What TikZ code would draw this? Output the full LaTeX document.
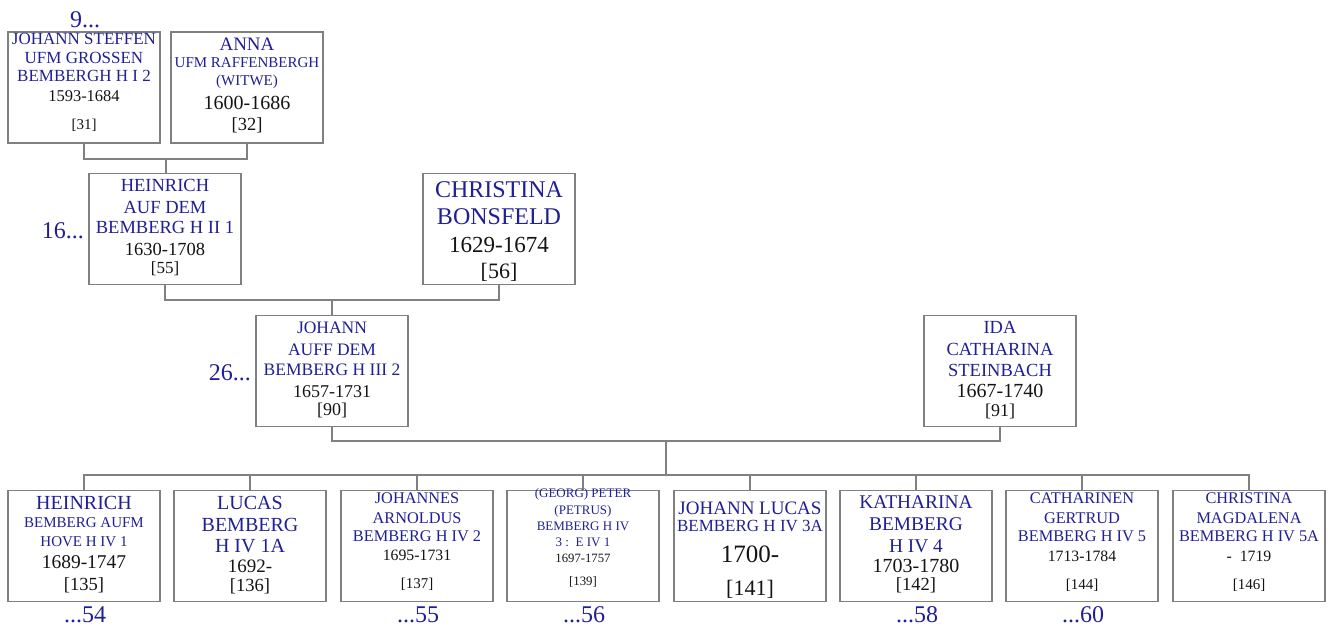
\documentclass[tikz,border=0pt]{standalone}
\usepackage{fontspec}
\setmainfont{Liberation Serif}
\definecolor{nameblue}{RGB}{32,32,150}
\definecolor{boxgray}{RGB}{128,128,128}
\definecolor{datecol}{RGB}{20,20,20}
\newcommand\boxline[6]{\node[anchor=base,inner sep=0,text=#4,font=\fontsize{#5}{#5}\selectfont] (#1) at (#2,#3) {#6};}
\tikzset{
  person/.style={draw=boxgray,line width=1.2pt,minimum width=152pt,minimum height=111pt,inner sep=0,fill=white},
  conn/.style={draw=boxgray,line width=1.2pt},
  gen/.style={anchor=base,inner sep=0,text=nameblue,font=\fontsize{24}{24}\selectfont}
}
\begin{document}
\begin{tikzpicture}[x=1pt,y=-1pt]
\useasboundingbox (0,0) rectangle (1332,628);
% boxes
\node[person] (A) at (84,87.5) {};
\node[person] (B) at (247,87.5) {};
\node[person] (C) at (165,229) {};
\node[person] (D) at (499,229) {};
\node[person] (E) at (332,371) {};
\node[person] (F) at (1000,371) {};
\node[person] (K1) at (84,546) {};
\node[person] (K2) at (250,546) {};
\node[person] (K3) at (417,546) {};
\node[person] (K4) at (583,546) {};
\node[person] (K5) at (750,546) {};
\node[person] (K6) at (916,546) {};
\node[person] (K7) at (1082,546) {};
\node[person] (K8) at (1249,546) {};
% connectors
\coordinate (m1) at (166,159);
\draw[conn] (A.south) |- (m1) -| (B.south);
\draw[conn] (m1) -- (m1 |- C.north);
\coordinate (m2) at (332,300);
\draw[conn] (C.south) |- (m2) -| (D.south);
\draw[conn] (m2) -- (E.north);
\coordinate (m3) at (666,441);
\draw[conn] (E.south) |- (m3) -| (F.south);
\coordinate (m4) at (666,475);
\draw[conn] (m3) -- (m4);
\draw[conn] (K1.north) |- (m4) -| (K8.north);
\foreach \k in {K2,K3,K4,K5,K6,K7} {\draw[conn] (\k.north) -- (\k.north |- m4);}
% generation labels
\node[gen] (g9) at (85,28) {9...};
\node[gen,anchor=base east] (g16) at (84,239) {16...};
\node[gen,anchor=base east] (g26) at (251,380) {26...};
\node[gen] (g54) at (85,622) {...54};
\node[gen] (g55) at (418,622) {...55};
\node[gen] (g56) at (584,622) {...56};
\node[gen] (g58) at (917,622) {...58};
\node[gen] (g60) at (1083,622) {...60};
% A
\boxline{a1}{84}{45}{nameblue}{17}{JOHANN STEFFEN}
\boxline{a2}{84}{64}{nameblue}{17}{UFM GROSSEN}
\boxline{a3}{84}{82}{nameblue}{17}{BEMBERGH H I 2}
\boxline{a4}{84}{102}{datecol}{16.5}{1593-1684}
\boxline{a5}{84}{130}{datecol}{15}{[31]}
% B
\boxline{b1}{247}{51}{nameblue}{19}{ANNA}
\boxline{b2}{247}{68}{nameblue}{15}{UFM RAFFENBERGH}
\boxline{b3}{247}{86}{nameblue}{15}{(WITWE)}
\boxline{b4}{247}{110}{datecol}{20}{1600-1686}
\boxline{b5}{247}{131}{datecol}{18.5}{[32]}
% C
\boxline{c1}{165}{192}{nameblue}{18.5}{HEINRICH}
\boxline{c2}{165}{214}{nameblue}{18.5}{AUF DEM}
\boxline{c3}{165}{234}{nameblue}{18.5}{BEMBERG H II 1}
\boxline{c4}{165}{255}{datecol}{18.5}{1630-1708}
\boxline{c5}{165}{273}{datecol}{17}{[55]}
% D
\boxline{d1}{499}{198}{nameblue}{24}{CHRISTINA}
\boxline{d2}{499}{225}{nameblue}{24}{BONSFELD}
\boxline{d3}{499}{252}{datecol}{23}{1629-1674}
\boxline{d4}{499}{278}{datecol}{22}{[56]}
% E
\boxline{e1}{332}{333}{nameblue}{17.5}{JOHANN}
\boxline{e2}{332}{355}{nameblue}{17.5}{AUFF DEM}
\boxline{e3}{332}{375}{nameblue}{17.5}{BEMBERG H III 2}
\boxline{e4}{332}{397}{datecol}{18}{1657-1731}
\boxline{e5}{332}{415}{datecol}{18}{[90]}
% F
\boxline{f1}{1000}{333}{nameblue}{18.5}{IDA}
\boxline{f2}{1000}{355}{nameblue}{18.5}{CATHARINA}
\boxline{f3}{1000}{376}{nameblue}{18.5}{STEINBACH}
\boxline{f4}{1000}{397}{datecol}{20}{1667-1740}
\boxline{f5}{1000}{416}{datecol}{18}{[91]}
% K1
\boxline{k11}{84}{509}{nameblue}{20}{HEINRICH}
\boxline{k12}{84}{527}{nameblue}{15}{BEMBERG AUFM}
\boxline{k13}{84}{546}{nameblue}{15}{HOVE H IV 1}
\boxline{k14}{84}{568}{datecol}{19.5}{1689-1747}
\boxline{k15}{84}{590}{datecol}{18.5}{[135]}
% K2
\boxline{k21}{250}{509}{nameblue}{20}{LUCAS}
\boxline{k22}{250}{531}{nameblue}{20}{BEMBERG}
\boxline{k23}{250}{552}{nameblue}{20}{H IV 1A}
\boxline{k24}{250}{572}{datecol}{19}{1692-}
\boxline{k25}{250}{591}{datecol}{18.5}{[136]}
% K3
\boxline{k31}{417}{503}{nameblue}{16.3}{JOHANNES}
\boxline{k32}{417}{523}{nameblue}{16.3}{ARNOLDUS}
\boxline{k33}{417}{541}{nameblue}{16.3}{BEMBERG H IV 2}
\boxline{k34}{417}{560}{datecol}{15.8}{1695-1731}
\boxline{k35}{417}{588}{datecol}{15}{[137]}
% K4
\boxline{k41}{583}{497}{nameblue}{13}{(GEORG) PETER}
\boxline{k42}{583}{514}{nameblue}{13}{(PETRUS)}
\boxline{k43}{583}{530}{nameblue}{13}{BEMBERG H IV}
\boxline{k44}{583}{546}{nameblue}{13}{3 :\ \ E IV 1}
\boxline{k45}{583}{562}{datecol}{12.7}{1697-1757}
\boxline{k46}{583}{585}{datecol}{12.8}{[139]}
% K5
\boxline{k51}{750}{514}{nameblue}{19}{JOHANN LUCAS}
\boxline{k52}{750}{531}{nameblue}{17}{BEMBERG H IV 3A}
\boxline{k53}{750}{562}{datecol}{25}{1700-}
\boxline{k54}{750}{595}{datecol}{22}{[141]}
% K6
\boxline{k61}{916}{508}{nameblue}{19.4}{KATHARINA}
\boxline{k62}{916}{530}{nameblue}{19.4}{BEMBERG}
\boxline{k63}{916}{552}{nameblue}{19.4}{H IV 4}
\boxline{k64}{916}{572}{datecol}{20}{1703-1780}
\boxline{k65}{916}{590}{datecol}{18.5}{[142]}
% K7
\boxline{k71}{1082}{503}{nameblue}{16.3}{CATHARINEN}
\boxline{k72}{1082}{523}{nameblue}{16.3}{GERTRUD}
\boxline{k73}{1082}{541}{nameblue}{16.3}{BEMBERG H IV 5}
\boxline{k74}{1082}{561}{datecol}{15.8}{1713-1784}
\boxline{k75}{1082}{589}{datecol}{15}{[144]}
% K8
\boxline{k81}{1249}{503}{nameblue}{16.3}{CHRISTINA}
\boxline{k82}{1249}{523}{nameblue}{16.3}{MAGDALENA}
\boxline{k83}{1249}{541}{nameblue}{16.3}{BEMBERG H IV 5A}
\boxline{k84}{1249}{561}{datecol}{15.8}{-\ \ 1719}
\boxline{k85}{1249}{589}{datecol}{15}{[146]}
\end{tikzpicture}
\end{document}
